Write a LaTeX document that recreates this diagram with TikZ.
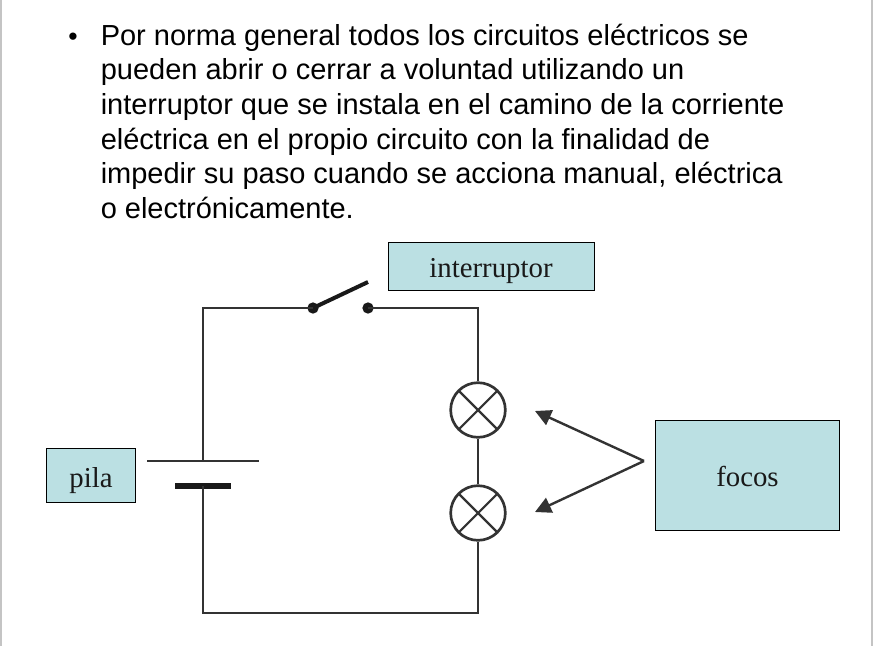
\documentclass[tikz,border=0pt]{standalone}
\usepackage{fontspec}
\setmainfont{Liberation Sans}
\newfontfamily\labelfont{Liberation Serif}
\usetikzlibrary{arrows.meta}
\definecolor{boxfill}{HTML}{BBE0E3}
\definecolor{wirecol}{HTML}{333333}
\definecolor{edgecol}{HTML}{C4C4C4}
\tikzset{>={Triangle[length=12pt,width=12pt]}}
\tikzset{
  labelbox/.style={draw=black, fill=boxfill, line width=.75pt, inner sep=0pt, text depth=4pt,
    font=\labelfont\fontsize{21.6}{26}\selectfont, text=black!90},
  wire/.style={draw=wirecol, line width=2pt},
  lamp/.style={circle, draw=wirecol, line width=2pt, minimum size=41pt, inner sep=0pt,
    path picture={
      \draw[wirecol, line width=1.6pt] (path picture bounding box.north west) -- (path picture bounding box.south east);
      \draw[wirecol, line width=1.6pt] (path picture bounding box.north east) -- (path picture bounding box.south west);
    }},
  contact/.style={circle, fill=black!90, minimum size=8.5pt, inner sep=0pt},
  pointer/.style={->, draw=wirecol, line width=1.8pt}
}

\begin{document}
\begin{tikzpicture}[x=.75pt, y=-.75pt]
  \useasboundingbox (0, 0) rectangle (874, 646);
  % slide edges
  \draw[edgecol, line width=1.5pt] (1, 0) -- (1, 646);
  \draw[edgecol, line width=1.5pt] (872, 0) -- (872, 646);
  % text
  \node[inner sep=0pt, font=\fontsize{20}{26}\selectfont] (bullet) at (73, 39) {•};
  \node[anchor=north west, inner sep=0pt, align=left, font=\fontsize{21.75}{26}\selectfont] (body) at (100.5, 23.5)
    {Por norma general todos los circuitos eléctricos se\\
     pueden abrir o cerrar a voluntad utilizando un\\
     interruptor que se instala en el camino de la corriente\\
     eléctrica en el propio circuito con la finalidad de\\
     impedir su paso cuando se acciona manual, eléctrica\\
     o electrónicamente.};
  % labels
  \node[labelbox, text height=20pt, minimum width=154.5pt, minimum height=36pt] (interruptor) at (491, 266.5) {interruptor};
  \node[labelbox, text height=22pt, minimum width=67pt, minimum height=40.5pt] (pila) at (91, 475) {pila};
  \node[labelbox, text height=20.5pt, minimum width=138.5pt, minimum height=82.5pt] (focos) at (747.5, 475) {focos};
  % switch
  \node[contact] (swa) at (313, 308) {};
  \node[contact] (swb) at (368, 308) {};
  \coordinate (swarm) at (368, 282);
  \draw[black!90, line width=3pt] (swa.center) -- (swarm);
  % lamps
  \node[lamp] (lampa) at (478, 410) {};
  \node[lamp] (lampb) at (478, 513) {};
  % battery
  \coordinate (platea) at (203, 461);
  \coordinate (plateb) at (203, 486);
  \coordinate (platealeft) at (147, 461);
  \coordinate (plateaend) at (259, 461);
  \coordinate (platebleft) at (175, 486);
  \coordinate (platebend) at (231, 486);
  \draw[wirecol, line width=1.8pt] (platealeft) -- (plateaend);
  \draw[black!90, line width=4.2pt] (platebleft) -- (platebend);
  % wires
  \coordinate (cornera) at (203, 613);
  \coordinate (cornerb) at (478, 613);
  \draw[wire] (platea) |- (swa.center);
  \draw[wire] (swb.center) -| (lampa);
  \draw[wire] (lampa) -- (lampb);
  \draw[wire] (lampb) -- (cornerb) -- (cornera) -- (plateb);
  % arrows
  \coordinate (apex) at (644, 461);
  \coordinate (tipa) at (535, 411);
  \coordinate (tipb) at (535, 512);
  \draw[pointer] (apex) -- (tipa);
  \draw[pointer] (apex) -- (tipb);
\end{tikzpicture}
\end{document}
